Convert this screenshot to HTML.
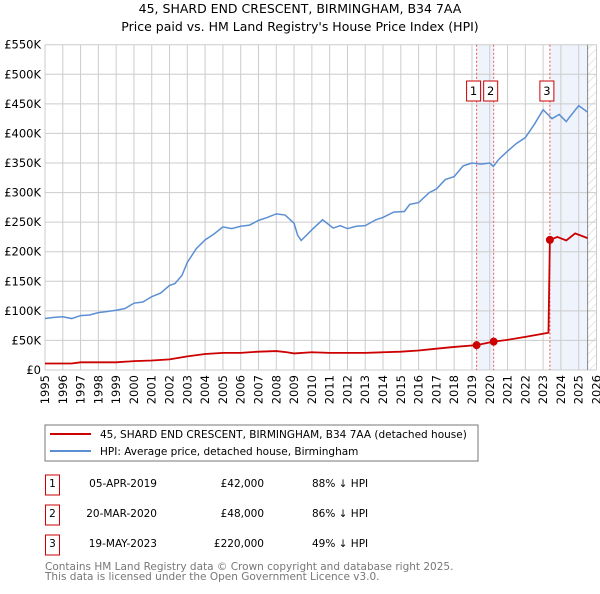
<!DOCTYPE html>
<html><head><meta charset="utf-8"><style>
body{margin:0;background:#fff;width:600px;height:590px;overflow:hidden;font-family:"DejaVu Sans","Liberation Sans",sans-serif}
svg text{font-family:"DejaVu Sans","Liberation Sans",sans-serif}
</style></head><body>
<svg id="c" width="600" height="590" xmlns="http://www.w3.org/2000/svg">
<text x="300" y="13" text-anchor="middle" font-size="12.5">45, SHARD END CRESCENT, BIRMINGHAM, B34 7AA</text>
<text x="300" y="31" text-anchor="middle" font-size="12.5">Price paid vs. HM Land Registry's House Price Index (HPI)</text>
<g id="plot"></g>
<rect x="45" y="425" width="433" height="36" fill="#fff" stroke="#777"/>
<line x1="50" y1="434" x2="91" y2="434" stroke="#cc0000" stroke-width="2"/>
<text x="100" y="438" font-size="10.5">45, SHARD END CRESCENT, BIRMINGHAM, B34 7AA (detached house)</text>
<line x1="50" y1="451" x2="91" y2="451" stroke="#5b8fd4" stroke-width="2"/>
<text x="100" y="455" font-size="10.5">HPI: Average price, detached house, Birmingham</text>
<g font-size="10.5">
<rect x="45.5" y="475" width="14" height="20" fill="none" stroke="#cc0000"/><text x="52.5" y="487" text-anchor="middle">1</text>
<text x="157" y="487" text-anchor="end">05-APR-2019</text><text x="264" y="487" text-anchor="end">£42,000</text><text x="312" y="487">88% ↓ HPI</text>
<rect x="45.5" y="505" width="14" height="20" fill="none" stroke="#cc0000"/><text x="52.5" y="517" text-anchor="middle">2</text>
<text x="157" y="517" text-anchor="end">20-MAR-2020</text><text x="264" y="517" text-anchor="end">£48,000</text><text x="312" y="517">86% ↓ HPI</text>
<rect x="45.5" y="535" width="14" height="20" fill="none" stroke="#cc0000"/><text x="52.5" y="547" text-anchor="middle">3</text>
<text x="157" y="547" text-anchor="end">19-MAY-2023</text><text x="264" y="547" text-anchor="end">£220,000</text><text x="312" y="547">49% ↓ HPI</text>
</g>
<text x="45" y="570" font-size="10.5" fill="#777">Contains HM Land Registry data © Crown copyright and database right 2025.</text>
<text x="45" y="580" font-size="10.5" fill="#777">This data is licensed under the Open Government Licence v3.0.</text>
</svg>
<script>
const hpiYears=[1995,1995.5,1996,1996.5,1997,1997.5,1998,1998.5,1999,1999.5,2000,2000.5,2001,2001.5,2002,2002.3,2002.7,2003,2003.5,2004,2004.5,2005,2005.5,2006,2006.5,2007,2007.5,2008,2008.5,2009,2009.2,2009.4,2010,2010.6,2011.2,2011.6,2012,2012.5,2013,2013.6,2014,2014.6,2015.2,2015.5,2016,2016.6,2017,2017.5,2018,2018.5,2019,2019.5,2020,2020.2,2020.5,2021,2021.5,2022,2022.5,2023,2023.5,2023.9,2024.3,2024.5,2025,2025.5];
const hpiValues=[87,89,90,87,92,93,97,99,101,104,113,115,124,130,143,146,160,182,205,220,230,242,239,243,245,253,258,264,262,248,228,219,237,254,240,244,239,243,244,254,258,267,268,280,283,300,306,322,327,345,350,348,350,344,356,370,383,393,415,440,425,432,420,428,447,436];
const priceYears=[1995,1996.5,1997,1998,1999,2000,2001,2002,2003,2004,2005,2006,2007,2008,2008.6,2009,2010,2011,2012,2013,2014,2015,2016,2017,2018,2019.26,2020.22,2021,2022,2023.3,2023.38,2023.8,2024.3,2024.8,2025.5];
const priceValues=[11,11,13,13,13,15,16,18,23,27,29,29,31,32,30,28,30,29,29,29,30,31,33,36,39,42,48,51,56,63,220,225,219,231,223];
const saleYears=[2019.26,2020.22,2023.38];
const saleValues=[42,48,220];
const saleLabels=["1","2","3"];
const yTicks=[0,50,100,150,200,250,300,350,400,450,500,550];
const yTickLabels=["£0","£50K","£100K","£150K","£200K","£250K","£300K","£350K","£400K","£450K","£500K","£550K"];
const xTicks=[1995,1996,1997,1998,1999,2000,2001,2002,2003,2004,2005,2006,2007,2008,2009,2010,2011,2012,2013,2014,2015,2016,2017,2018,2019,2020,2021,2022,2023,2024,2025,2026];
const X0=45,X1=596.5,Y0=370,Y1=44.7,yearMin=1995,yearMax=2026,vMax=550,dataEnd=2025.5;
const xs=y=>X0+(y-yearMin)/(yearMax-yearMin)*(X1-X0);
const ys=v=>Y0-v/vMax*(Y0-Y1);
const NS="http://www.w3.org/2000/svg";
const g=document.getElementById('plot');
function mk(t,a,p){const e=document.createElementNS(NS,t);for(const k in a)e.setAttribute(k,a[k]);(p||g).appendChild(e);return e;}
let s=mk('rect',{x:xs(saleYears[0]),y:Y1,width:xs(saleYears[1])-xs(saleYears[0]),height:Y0-Y1,fill:'#eef3fc'});


s=mk('rect',{x:xs(saleYears[2]),y:Y1,width:xs(dataEnd)-xs(saleYears[2]),height:Y0-Y1,fill:'#eef3fc'});


const defs=mk('defs',{});
const pat=mk('pattern',{id:'h',width:6,height:6,patternUnits:'userSpaceOnUse',patternTransform:'rotate(45)'},defs);
mk('line',{x1:0,y1:0,x2:0,y2:6,stroke:'#ccc','stroke-width':1},pat);
s=mk('rect',{x:xs(dataEnd),y:Y1,width:X1-xs(dataEnd),height:Y0-Y1,fill:'url(#h)'});


xTicks.forEach(t=>{const l=mk('line',{x1:xs(t),y1:Y1,x2:xs(t),y2:Y0,stroke:'#ccc'});


const tx=mk('text',{x:0,y:0,'font-size':'11.5','text-anchor':'end',transform:`translate(${xs(t)+4},${Y0+5}) rotate(-90)`});tx.textContent=t;

});
yTicks.forEach((t,i)=>{const l=mk('line',{x1:X0,y1:ys(t),x2:X1,y2:ys(t),stroke:'#ccc'});


const tx=mk('text',{x:X0-4,y:ys(t)+4,'font-size':'11.5','text-anchor':'end'});tx.textContent=yTickLabels[i];

});
s=mk('line',{x1:xs(dataEnd),y1:Y1,x2:xs(dataEnd),y2:Y0,stroke:'#888'});


saleYears.forEach(y=>{const l=mk('line',{x1:xs(y),y1:Y1,x2:xs(y),y2:Y0,stroke:'#e55','stroke-dasharray':'2,2','stroke-width':1});

});
let p=mk('polyline',{points:hpiYears.map((y,i)=>xs(y)+','+ys(hpiValues[i])).join(' '),fill:'none',stroke:'#5b8fd4','stroke-width':1.5});


p=mk('polyline',{points:priceYears.map((y,i)=>xs(y)+','+ys(priceValues[i])).join(' '),fill:'none',stroke:'#cc0000','stroke-width':1.8});


saleYears.forEach((y,i)=>{const c=mk('circle',{cx:xs(y),cy:ys(saleValues[i]),r:4,fill:'#cc0000'});


const cx=xs(y)-3;
const r=mk('rect',{x:cx-7,y:81,width:14,height:20,fill:'#fff',stroke:'#cc0000'});


const t=mk('text',{x:cx,y:95,'font-size':'11.5','text-anchor':'middle'});t.textContent=saleLabels[i];

});
</script>
</body></html>
